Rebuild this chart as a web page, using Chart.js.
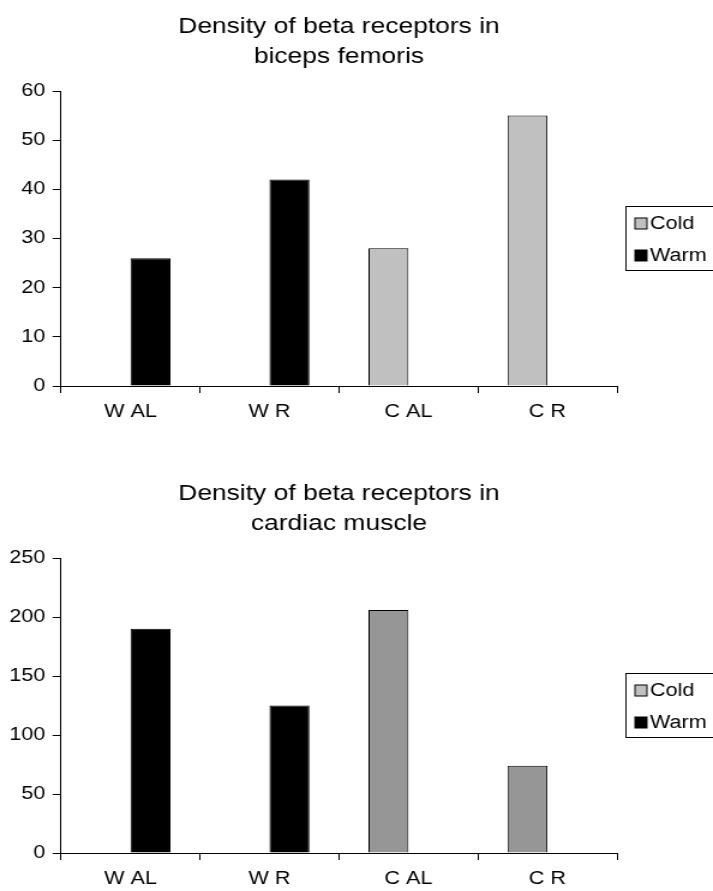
<!DOCTYPE html>
<html>
<head>
<meta charset="utf-8">
<script src="https://cdn.jsdelivr.net/npm/chart.js@4.4.1/dist/chart.umd.min.js"></script>
<style>
  body { margin: 0; background: #fff; overflow: hidden; }
  .wrap { position: absolute; left: 0; width: 594px; height: 432px; transform: scaleX(1.2003); transform-origin: 0 0; }
  #w1 { top: 0; }
  #w2 { top: 467px; }
</style>
</head>
<body>
<div class="wrap" id="w1"><canvas id="femoris" width="594" height="432"></canvas></div>
<div class="wrap" id="w2"><canvas id="cardiac" width="594" height="432"></canvas></div>
<script>
const categories = ['W AL', 'W R', 'C AL', 'C R'];
const seriesNames = ['Cold', 'Warm'];

const femorisCold = [null, null, 28, 55];
const femorisWarm = [26, 42, null, null];
const femorisTicks = [0, 10, 20, 30, 40, 50, 60];

const cardiacCold = [null, null, 206, 74];
const cardiacWarm = [190, 125, null, null];
const cardiacTicks = [0, 50, 100, 150, 200, 250];

const FONT = '"Liberation Sans", Arial, Helvetica, sans-serif';

// boxed legend to the right of the plot, like the old spreadsheet charts
const boxLegend = {
  id: 'boxLegend',
  afterDraw(chart, args, opts) {
    const ctx = chart.ctx;
    const area = chart.chartArea;
    const sets = chart.data.datasets;
    const mid = (area.top + area.bottom) / 2;
    const left = area.right + 7.5;
    ctx.save();
    ctx.lineWidth = 1;
    ctx.strokeStyle = '#000';
    ctx.strokeRect(left, mid - 32, chart.width - left + 5, 64);
    ctx.font = '18px ' + FONT;
    ctx.textBaseline = 'middle';
    sets.forEach((ds, i) => {
      const y = mid - 15 + i * 32;
      ctx.fillStyle = (opts.fills && opts.fills[i]) || ds.backgroundColor;
      ctx.fillRect(left + 7.5, y - 5.5, 10, 11);
      ctx.strokeRect(left + 7.5, y - 5.5, 10, 11);
      ctx.fillStyle = '#000';
      ctx.fillText(ds.label, left + 20, y + 1);
    });
    ctx.restore();
  }
};

function makeChart(id, title, cold, warm, ticks, coldColor, legendFills) {
  const step = ticks[1] - ticks[0];
  return new Chart(document.getElementById(id), {
    type: 'bar',
    data: {
      labels: categories,
      datasets: [
        {
          label: seriesNames[0],
          data: cold,
          backgroundColor: coldColor,
          borderColor: '#000',
          borderWidth: 1
        },
        {
          label: seriesNames[1],
          data: warm,
          backgroundColor: '#000',
          borderColor: '#000',
          borderWidth: 1
        }
      ]
    },
    options: {
      responsive: false,
      animation: false,
      events: [],
      layout: { padding: { left: 0, right: 80, top: 0, bottom: 1.4 } },
      datasets: {
        bar: { categoryPercentage: 0.575, barPercentage: 1 }
      },
      plugins: {
        legend: { display: false },
        tooltip: { enabled: false },
        title: {
          display: true,
          fullSize: false,
          text: title,
          color: '#000',
          font: { family: FONT, size: 22, weight: 'normal', lineHeight: 30 / 22 },
          padding: { top: 12, bottom: 19 }
        },
        boxLegend: { fills: legendFills }
      },
      scales: {
        x: {
          grid: {
            drawOnChartArea: false,
            drawTicks: true,
            tickLength: 7,
            color: '#000'
          },
          border: { display: true, color: '#000', width: 1 },
          ticks: {
            color: '#000',
            padding: 8,
            maxRotation: 0,
            font: { family: FONT, size: 18 }
          }
        },
        y: {
          min: ticks[0],
          max: ticks[ticks.length - 1],
          afterFit(scale) { scale.width = 50.8; },
          grid: {
            drawOnChartArea: false,
            drawTicks: true,
            tickLength: 7,
            color: '#000'
          },
          border: { display: true, color: '#000', width: 1 },
          ticks: {
            stepSize: step,
            color: '#000',
            padding: 6,
            font: { family: FONT, size: 18 }
          }
        }
      }
    },
    plugins: [boxLegend]
  });
}

makeChart('femoris', ['Density of beta receptors in', 'biceps femoris'],
  femorisCold, femorisWarm, femorisTicks, '#c0c0c0', null);
makeChart('cardiac', ['Density of beta receptors in', 'cardiac muscle'],
  cardiacCold, cardiacWarm, cardiacTicks, '#969696', ['#c0c0c0', '#000']);
</script>
</body>
</html>
